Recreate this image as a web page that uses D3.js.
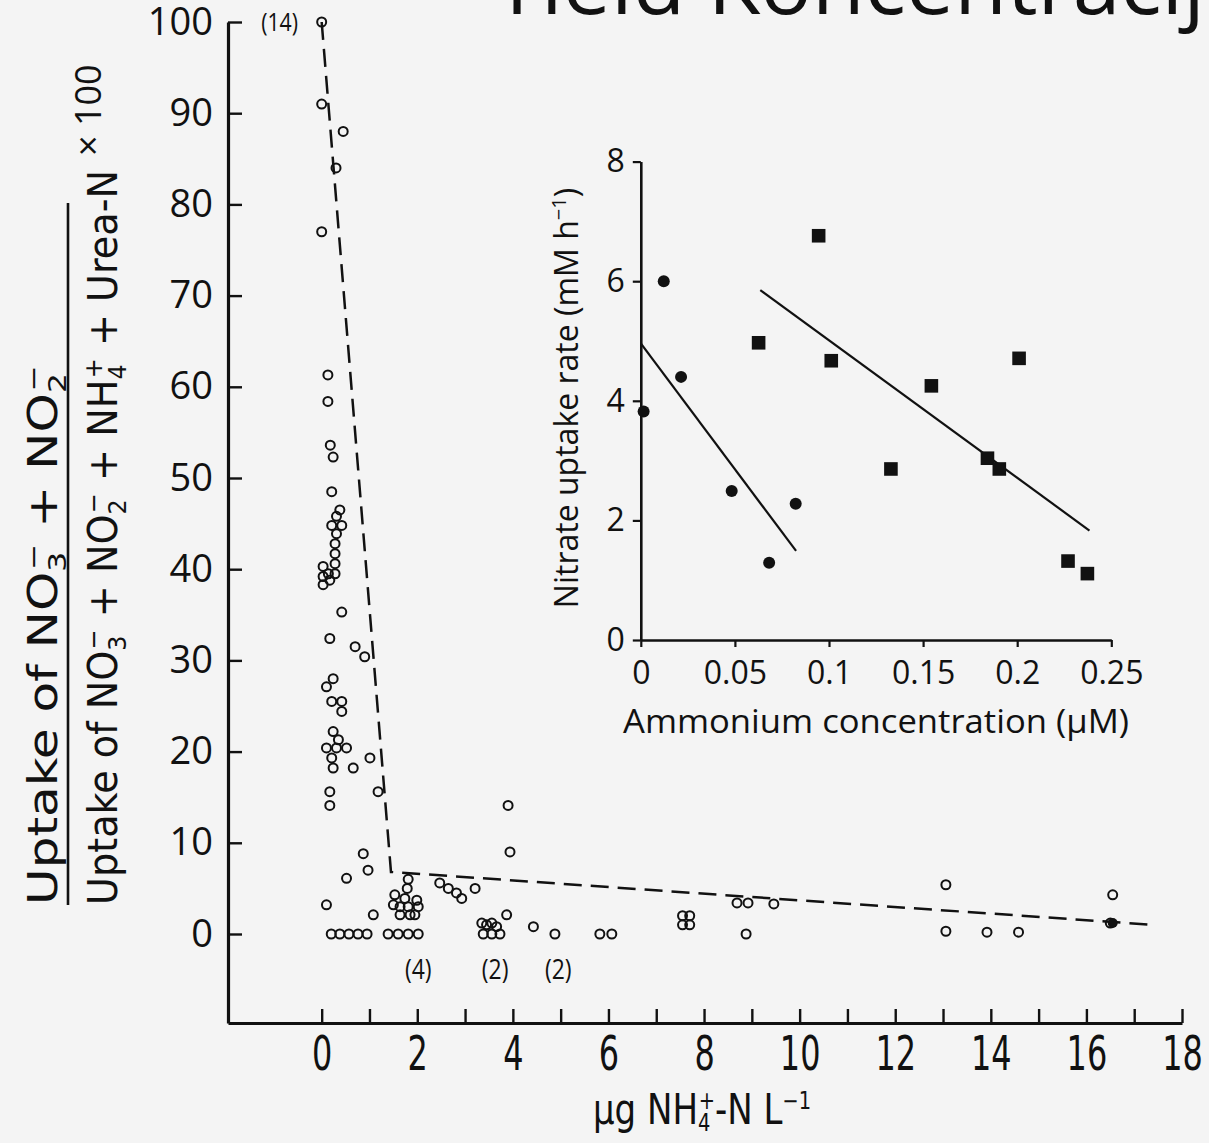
<!DOCTYPE html>
<html><head><meta charset="utf-8">
<script src="https://cdn.jsdelivr.net/npm/d3@7/dist/d3.min.js"></script>
<style>
body{margin:0;background:#f4f4f4;}
svg{display:block;}
.narrow{font-family:"Liberation Sans Narrow","Arial Narrow","DejaVu Sans Condensed","Noto Sans",sans-serif;}
.reg{font-family:"Open Sans","Noto Sans",sans-serif;}
</style>
</head><body>
<svg id="c" width="1209" height="1143"></svg>
<script>
// ---------- main chart data ----------
const mainXTicks = d3.range(0, 19);
const mainYTicks = [0,10,20,30,40,50,60,70,80,90,100];
const mainX = [0,0,0.45,0.3,0,
  0.13,0.13,0.18,0.24,0.21,
  0.38,0.31,0.42,0.21,0.31,0.28,0.28,0.28,0.28,0.03,0.03,0.03,0.14,0.17,
  0.42,0.17,0.7,0.9,0.24,0.1,0.21,0.42,0.42,
  0.24,0.35,0.1,0.31,0.52,0.21,0.24,0.66,1.01,0.17,0.17,1.18,
  3.9,3.94,
  0.87,0.97,0.52,0.1,1.08,
  0.2,0.38,0.57,0.76,0.95,1.39,1.6,1.81,2.02,
  1.81,1.79,1.53,1.74,1.99,1.5,1.64,1.81,2.02,1.64,1.85,1.95,
  2.47,2.65,2.82,2.93,3.21,
  3.35,3.45,3.56,3.66,3.38,3.56,3.73,3.87,
  4.43,4.88,5.82,6.07,
  7.55,7.7,7.55,7.7,
  8.69,8.92,9.46,8.88,
  13.06,13.06,13.92,14.58,
  16.55,16.5];
const mainY = [100,91,88,84,77,
  61.3,58.4,53.6,52.3,48.5,
  46.5,45.8,44.8,44.8,43.9,42.8,41.7,40.6,39.5,40.3,39.2,38.3,39.5,38.8,
  35.3,32.4,31.5,30.4,28.0,27.1,25.5,25.5,24.4,
  22.2,21.3,20.4,20.4,20.4,19.3,18.2,18.2,19.3,15.6,14.1,15.6,
  14.1,9.0,
  8.8,7.0,6.1,3.2,2.1,
  0,0,0,0,0,0,0,0,0,
  6.0,5.0,4.3,3.9,3.7,3.2,3.0,3.0,3.0,2.1,2.1,2.1,
  5.6,5.0,4.5,3.9,5.0,
  1.2,1.0,1.2,0.8,0,0,0,2.1,
  0.8,0,0,0,
  2.0,2.0,1.0,1.0,
  3.4,3.4,3.3,0,
  5.4,0.3,0.2,0.2,
  4.3,1.2];
const mainFilledX = [16.55];
const mainFilledY = [1.2];
const trendX = [0, 1.45, 17.4];
const trendY = [100, 6.8, 1.0];
const countLabels = ["(14)", "(4)", "(2)", "(2)"];
const countX = [-0.88, 2.02, 3.63, 4.95];
const countY = [100, -3.9, -3.9, -3.9];

// ---------- inset data ----------
const insetXTicks = [0, 0.05, 0.1, 0.15, 0.2, 0.25];
const insetYTicks = [0, 2, 4, 6, 8];
const circX = [0.0015, 0.0122, 0.0214, 0.0483, 0.0682, 0.0823];
const circY = [3.82, 6.0, 4.4, 2.49, 1.29, 2.28];
const sqX = [0.0626, 0.0945, 0.1012, 0.1329, 0.1544, 0.1842, 0.1905, 0.201, 0.227, 0.2373];
const sqY = [4.97, 6.76, 4.67, 2.86, 4.25, 3.04, 2.86, 4.71, 1.32, 1.11];
const fit1X = [0, 0.0825], fit1Y = [4.96, 1.49];
const fit2X = [0.0635, 0.2384], fit2Y = [5.85, 1.83];

const svg = d3.select("#c");
svg.append("rect").attr("width",1209).attr("height",1143).attr("fill","#f4f4f4");
const ink = "#111";

// title fragment at top
svg.append("text").attr("class","reg").attr("x",493).attr("y",14)
  .attr("font-size",84).attr("fill",ink)
  .attr("textLength",712).attr("lengthAdjust","spacingAndGlyphs")
  .text("Yield Koncentracij");

// ---------- main scales ----------
const x = d3.scaleLinear().domain([-1.96, 18]).range([228, 1182]);
const y = d3.scaleLinear().domain([-9.76, 100]).range([1023, 22]);

const gx = svg.append("g").attr("transform","translate(0,1023)")
  .call(d3.axisBottom(x).tickValues(mainXTicks).tickSizeInner(-14).tickSizeOuter(0).tickPadding(13)
    .tickFormat(d => d % 2 === 0 ? d : ""));
gx.select(".domain").attr("stroke",ink).attr("stroke-width",3.2);
gx.selectAll(".tick line").attr("stroke",ink).attr("stroke-width",2.4);
gx.selectAll(".tick text").attr("class","narrow").attr("font-size",48).attr("fill",ink)
  .attr("transform","scale(0.74,1)");

const gy = svg.append("g").attr("transform","translate(228,0)")
  .call(d3.axisLeft(y).tickValues(mainYTicks).tickSizeInner(-14).tickSizeOuter(0).tickPadding(15));
gy.select(".domain").attr("stroke",ink).attr("stroke-width",3.2);
gy.selectAll(".tick line").attr("stroke",ink).attr("stroke-width",2.4);
gy.selectAll(".tick text").attr("class","reg").attr("font-size",38).attr("fill",ink);

// trend (dashed)
svg.append("path")
  .attr("d", d3.line().x((d,i)=>x(trendX[i])).y((d,i)=>y(trendY[i]))(trendX))
  .attr("fill","none").attr("stroke",ink).attr("stroke-width",2.5).attr("stroke-dasharray","18,9");

// points
svg.append("g").selectAll("circle").data(mainX).join("circle")
  .attr("cx",(d,i)=>x(mainX[i])).attr("cy",(d,i)=>y(mainY[i])).attr("r",4.5)
  .attr("fill","none").attr("stroke",ink).attr("stroke-width",2);
svg.append("g").selectAll("circle").data(mainFilledX).join("circle")
  .attr("cx",(d,i)=>x(mainFilledX[i])).attr("cy",(d,i)=>y(mainFilledY[i])).attr("r",5)
  .attr("fill",ink);

// count labels
svg.append("g").selectAll("text").data(countLabels).join("text")
  .attr("class","reg")
  .attr("transform",(d,i)=>`translate(${x(countX[i])},${y(countY[i])}) scale(0.85,1)`)
  .attr("dy","0.35em").attr("text-anchor","middle")
  .attr("font-size",(d,i)=> i===0 ? 25 : 27).attr("fill",ink).text(d=>d);

// x-axis title
const xt = svg.append("text").attr("class","narrow")
  .attr("transform","translate(702,1124) scale(0.9,1)")
  .attr("text-anchor","middle").attr("font-size",42).attr("fill",ink);
xt.append("tspan").text("µg NH");
xt.append("tspan").attr("font-size",24).attr("dy",7).text("4");
xt.append("tspan").attr("font-size",24).attr("dx",-13).attr("dy",-22).text("+");
xt.append("tspan").attr("dy",15).text("-N L");
xt.append("tspan").attr("font-size",24).attr("dy",-15).text("−1");

// y-axis title: fraction
function formula(g, bx, by, len, parts){
  const t = g.append("text").attr("class","narrow")
    .attr("transform",`translate(${bx},${by}) rotate(-90)`)
    .attr("font-size",40).attr("fill",ink)
    .attr("textLength",len).attr("lengthAdjust","spacingAndGlyphs");
  let off = 0;
  parts.forEach(p => {
    const s = t.append("tspan").text(p[0]);
    if (p[1] === "sub") { s.attr("font-size",25).attr("dy",9-off); off = 9; }
    else if (p[1] === "sup") { s.attr("font-size",25).attr("dx",-13).attr("dy",-15-off); off = -15; }
    else { s.attr("dy",-off); off = 0; }
  });
}
const gl = svg.append("g");
formula(gl, 57, 905, 540, [["Uptake of NO"],["3","sub"],["−","sup"],[" + NO"],["2","sub"],["−","sup"]]);
formula(gl, 117, 905, 735, [["Uptake of NO"],["3","sub"],["−","sup"],[" + NO"],["2","sub"],["−","sup"],[" + NH"],["4","sub"],["+","sup"],[" + Urea-N"]]);
gl.append("line").attr("x1",68).attr("x2",68).attr("y1",203).attr("y2",905)
  .attr("stroke",ink).attr("stroke-width",2.6);
gl.append("text").attr("class","reg").attr("transform","translate(101,156) rotate(-90)")
  .attr("font-size",36).attr("fill",ink).text("× 100");

// ---------- inset ----------
const xi = d3.scaleLinear().domain([0,0.25]).range([640.8,1111.3]);
const yi = d3.scaleLinear().domain([0,8]).range([640,161.6]);
const gxi = svg.append("g").attr("transform","translate(0,640)")
  .call(d3.axisBottom(xi).tickValues(insetXTicks).tickSizeInner(7).tickSizeOuter(0).tickPadding(14)
    .tickFormat(d => String(d)));
const gyi = svg.append("g").attr("transform","translate(640.8,0)")
  .call(d3.axisLeft(yi).tickValues(insetYTicks).tickSizeInner(8).tickSizeOuter(0).tickPadding(8));
[gxi,gyi].forEach(g=>{
  g.select(".domain").attr("stroke",ink).attr("stroke-width",2.6);
  g.selectAll(".tick line").attr("stroke",ink).attr("stroke-width",2.2);
  g.selectAll(".tick text").attr("class","reg").attr("font-size",32).attr("fill",ink);
});
svg.append("text").attr("class","reg").attr("x",876).attr("y",733).attr("text-anchor","middle")
  .attr("font-size",32).attr("fill",ink).attr("textLength",506).attr("lengthAdjust","spacingAndGlyphs")
  .text("Ammonium concentration (µM)");
const yti = svg.append("text").attr("class","reg").attr("transform","translate(578,398) rotate(-90)")
  .attr("text-anchor","middle").attr("font-size",32).attr("fill",ink);
yti.append("tspan").text("Nitrate uptake rate (mM h");
yti.append("tspan").attr("font-size",20).attr("dy",-12).text("−1");
yti.append("tspan").attr("dy",12).text(")");

const lineI = d3.line();
svg.append("path").attr("d", lineI(fit1X.map((d,i)=>[xi(d), yi(fit1Y[i])])))
  .attr("stroke",ink).attr("stroke-width",2.2).attr("fill","none");
svg.append("path").attr("d", lineI(fit2X.map((d,i)=>[xi(d), yi(fit2Y[i])])))
  .attr("stroke",ink).attr("stroke-width",2.2).attr("fill","none");
svg.append("g").selectAll("circle").data(circX).join("circle")
  .attr("cx",(d,i)=>xi(circX[i])).attr("cy",(d,i)=>yi(circY[i])).attr("r",6).attr("fill",ink);
svg.append("g").selectAll("rect").data(sqX).join("rect")
  .attr("x",(d,i)=>xi(sqX[i])-6.8).attr("y",(d,i)=>yi(sqY[i])-6.8)
  .attr("width",13.6).attr("height",13.6).attr("fill",ink);
</script>
</body></html>
